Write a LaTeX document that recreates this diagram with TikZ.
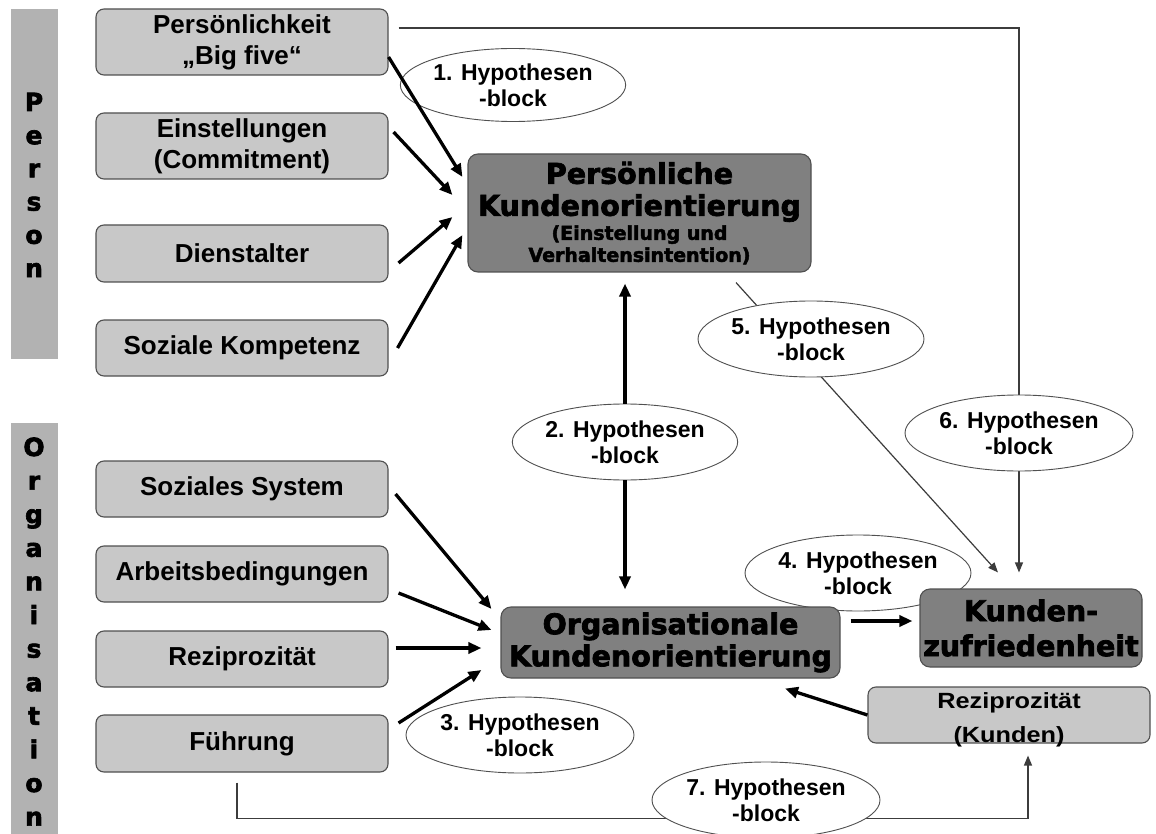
\documentclass[tikz,border=0pt]{standalone}
\usepackage{fontspec}
\setmainfont{Liberation Sans}
\newfontfamily\heavy[BoldFeatures={FakeBold=2.5}]{DejaVu Sans}
\newfontfamily\widefont[FakeStretch=1.15]{Liberation Sans}
\usetikzlibrary{shapes.geometric,arrows.meta,calc}
\pgfdeclarelayer{bgl}
\pgfdeclarelayer{thinl}
\pgfdeclarelayer{ells}
\pgfsetlayers{bgl,thinl,ells,main}
\definecolor{lightbox}{RGB}{200,200,200}
\definecolor{darkbox}{RGB}{128,128,128}
\definecolor{barcol}{RGB}{178,178,178}
\definecolor{bordercol}{RGB}{80,80,80}
\definecolor{thincol}{RGB}{60,60,60}
\begin{document}
\begin{tikzpicture}[x=1pt,y=-1pt,
  lbox/.style={draw=bordercol, fill=lightbox, line width=1.1pt, rounded corners=8pt,
    minimum width=292pt, inner sep=0pt, align=center,
    font=\bfseries\fontsize{26}{31}\selectfont},
  dbox/.style={draw=bordercol, fill=darkbox, line width=1.1pt, rounded corners=10pt,
    inner sep=0pt, align=center, font=\heavy\bfseries\fontsize{28.5}{32}\selectfont},
  hyp/.style={ellipse, draw=bordercol, fill=white, line width=0.9pt, inner sep=0pt,
    align=center, font=\bfseries\fontsize{23}{26}\selectfont},
  barletter/.style={anchor=base, inner sep=0pt, font=\heavy\bfseries\fontsize{25}{25}\selectfont},
  barrow/.style={line width=3.3pt, -{Triangle[length=13pt,width=11pt]}},
  tarrow/.style={draw=thincol, line width=1.2pt, -{Triangle[length=10pt,width=8pt]}}
]
\useasboundingbox (0,0) rectangle (1156,834);
\begin{pgfonlayer}{bgl}
\fill[white] (0,0) rectangle (1156,834);
\end{pgfonlayer}

% side bars
\fill[barcol] (11,9) rectangle (58,359);
\fill[barcol] (11,423) rectangle (58,834);
\foreach \c [count=\i from 0] in {P,e,r,s,o,n}
  \node[barletter] (pl\i) at (34,{111+33.2*\i}) {\c};
\foreach \c [count=\i from 0] in {O,r,g,a,n,i,s,a,t,i,o,n}
  \node[barletter] (ol\i) at (34,{456+33.6*\i}) {\c};

% left boxes
\node[lbox, minimum height=66pt] (pers) at (242,42) {Persönlichkeit\\„Big five“};
\node[lbox, minimum height=66pt] (einst) at (242,146) {Einstellungen\\(Commitment)};
\node[lbox, minimum height=57pt] (dienst) at (242,253.5) {Dienstalter};
\node[lbox, minimum height=56pt] (sozk) at (242,348) {Soziale Kompetenz};
\node[lbox, minimum height=56pt] (sozsys) at (242,489) {Soziales System};
\node[lbox, minimum height=56pt] (arb) at (242,574) {Arbeitsbedingungen};
\node[lbox, minimum height=56pt] (rez) at (242,659) {Reziprozität};
\node[lbox, minimum height=57pt] (fuehr) at (242,743.5) {Führung};

% central boxes
\node[dbox, minimum width=343pt, minimum height=118pt] (PKO) at (639.5,213)
  {Persönliche\\Kundenorientierung\\[-8pt]\fontsize{19}{22}\selectfont (Einstellung und\\[-10pt]\fontsize{19}{22}\selectfont Verhaltensintention)};
\node[dbox, minimum width=339pt, minimum height=71pt] (OKO) at (670.5,642.5)
  {Organisationale\\Kundenorientierung};
\node[dbox, minimum width=222pt, minimum height=78pt, font=\heavy\bfseries\fontsize{28.5}{35}\selectfont] (KZ) at (1031,628)
  {Kunden-\\zufriedenheit};
\node[lbox, minimum width=282pt, minimum height=56pt] (RK) at (1009,715) {};
\node[inner sep=0pt, align=center, font=\widefont\bfseries\fontsize{22}{34}\selectfont, yshift=-5pt] (RKt) at (RK.center)
  {Reziprozität\\(Kunden)};

% hypothesis ellipses
\begin{pgfonlayer}{ells}
\node[hyp, minimum width=216pt, minimum height=73pt] (e1) at (513,85) {1. Hypothesen\\-block};
\node[hyp, minimum width=224pt, minimum height=76pt] (e2) at (625,442) {2. Hypothesen\\-block};
\node[hyp, minimum width=228pt, minimum height=76pt] (e3) at (520,735) {3. Hypothesen\\-block};
\node[hyp, minimum width=226pt, minimum height=76pt] (e4) at (858,573) {4. Hypothesen\\-block};
\node[hyp, minimum width=226pt, minimum height=76pt] (e5) at (811,339) {5. Hypothesen\\-block};
\node[hyp, minimum width=228pt, minimum height=76pt] (e6) at (1019,433) {6. Hypothesen\\-block};
\node[hyp, minimum width=228pt, minimum height=76pt] (e7) at (766,800) {7. Hypothesen\\-block};
\end{pgfonlayer}

% thin connectors (behind the ellipses)
\begin{pgfonlayer}{thinl}
\draw[tarrow] ($(pers.east)+(10,-14)$) -| ($(KZ.north)+(-12,-16)$);
\draw[tarrow] ($(PKO.south)+(96.5,10)$) -- ($(KZ.north)+(-33,-16)$);
\draw[tarrow] ($(fuehr.south)+(-5,10)$) |- ($(RK.south)+(19,75)$) -- ($(RK.south)+(19,12)$);
\end{pgfonlayer}

% bold arrows
\draw[barrow] ($(pers.east)+(0,15)$) -- ($(PKO.west)+(-5,-36)$);
\draw[barrow] ($(einst.east)+(5,-14)$) -- ($(PKO.west)+(-15,-18)$);
\draw[barrow] ($(dienst.east)+(10,9.5)$) -- ($(PKO.west)+(-15,4)$);
\draw[barrow] ($(sozk.east)+(9,0)$) -- ($(PKO.west)+(-5,22)$);
\draw[barrow, shorten >=11pt] (e2.north) -- (e2.north |- PKO.south);
\draw[barrow, shorten >=17pt] (e2.south) -- (e2.south |- OKO.north);
\draw[barrow] ($(sozsys.east)+(7,5)$) -- ($(OKO.west)+(-9,-33.5)$);
\draw[barrow] ($(arb.east)+(10,19)$) -- ($(OKO.west)+(-9,-12.5)$);
\draw[barrow] ($(rez.east)+(7,-11)$) -- ($(OKO.west)+(-19,5.5)$);
\draw[barrow] ($(fuehr.east)+(10,-20.5)$) -- ($(OKO.west)+(-19,27.5)$);
\draw[barrow] ($(OKO.east)+(10,-21.5)$) -- ($(KZ.west)+(-7,-7)$);
\draw[barrow] (RK.west) -- ($(OKO.south)+(114.5,10)$);
\end{tikzpicture}
\end{document}
